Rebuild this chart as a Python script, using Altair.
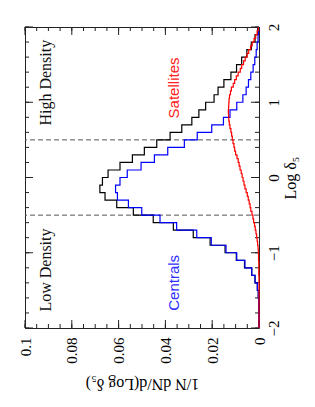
import altair as alt
import pandas as pd

# ---------------- data ----------------
# 0.1-wide bins of Log delta_5, lower edges -2.0 ... 1.9
bin_lo_01 = [round(-2.0 + 0.1 * i, 1) for i in range(40)]
total = [0.0000, 0.0000, 0.0001, 0.0001, 0.0003, 0.0007, 0.0017, 0.0031, 0.0062, 0.0097,
         0.0145, 0.0209, 0.0281, 0.0366, 0.0452, 0.0537, 0.0608, 0.0658, 0.0680, 0.0669,
         0.0645, 0.0594, 0.0541, 0.0490, 0.0437, 0.0380, 0.0330, 0.0287, 0.0257, 0.0228,
         0.0192, 0.0175, 0.0150, 0.0120, 0.0096, 0.0074, 0.0052, 0.0033, 0.0017, 0.0006]
centrals = [0.0000, 0.0000, 0.0001, 0.0001, 0.0003, 0.0007, 0.0017, 0.0031, 0.0060, 0.0095,
            0.0141, 0.0204, 0.0266, 0.0352, 0.0423, 0.0501, 0.0558, 0.0605, 0.0613, 0.0594,
            0.0563, 0.0504, 0.0447, 0.0390, 0.0319, 0.0264, 0.0202, 0.0152, 0.0124, 0.0095,
            0.0069, 0.0055, 0.0045, 0.0035, 0.0025, 0.0018, 0.0012, 0.0008, 0.0004, 0.0002]
# 0.05-wide bins, lower edges -2.00 ... 1.95
bin_lo_005 = [round(-2.0 + 0.05 * i, 2) for i in range(80)]
satellites = [0.0000, 0.0000, 0.0000, 0.0000, 0.0000, 0.0000, 0.0000, 0.0000, 0.0000, 0.0000,
              0.0000, 0.0000, 0.0000, 0.0000, 0.0001, 0.0001, 0.0001, 0.0001, 0.0002, 0.0002,
              0.0003, 0.0004, 0.0006, 0.0008, 0.0010, 0.0013, 0.0016, 0.0019, 0.0023, 0.0026,
              0.0030, 0.0035, 0.0038, 0.0042, 0.0046, 0.0050, 0.0055, 0.0060, 0.0064, 0.0068,
              0.0072, 0.0076, 0.0081, 0.0085, 0.0089, 0.0094, 0.0100, 0.0104, 0.0107, 0.0111,
              0.0114, 0.0117, 0.0120, 0.0124, 0.0127, 0.0129, 0.0130, 0.0131, 0.0130, 0.0129,
              0.0128, 0.0126, 0.0122, 0.0118, 0.0110, 0.0104, 0.0097, 0.0089, 0.0080, 0.0074,
              0.0066, 0.0059, 0.0051, 0.0044, 0.0036, 0.0029, 0.0021, 0.0014, 0.0008, 0.0003]

density_cuts = [-0.5, 0.5]
x_major = [0, 0.02, 0.04, 0.06, 0.08, 0.1]
x_minor = [round(0.005 * k, 3) for k in range(21)]
y_major = [-2, -1, 0, 1, 2]
y_minor = [round(-2.0 + 0.2 * k, 1) for k in range(21)]

ann_serif = pd.DataFrame({"val": [0.091, 0.091], "logd": [1.26, -1.23],
                          "label": ["High Density", "Low Density"]})
ann_sans = pd.DataFrame({"val": [0.0363, 0.0363], "logd": [1.19, -1.40],
                         "label": ["Satellites", "Centrals"],
                         "col": ["#ff2020", "#3030ff"]})


def steps(lo_edges, width, vals):
    rows = []
    for i, (lo, v) in enumerate(zip(lo_edges, vals)):
        rows.append({"order": 2 * i, "logd": lo, "val": v})
        rows.append({"order": 2 * i + 1, "logd": round(lo + width, 3), "val": v})
    return pd.DataFrame(rows)


df_tot = steps(bin_lo_01, 0.1, total)
df_cen = steps(bin_lo_01, 0.1, centrals)
df_sat = steps(bin_lo_005, 0.05, satellites)

W, H = 234, 301
SERIF = "Liberation Serif, DejaVu Serif, serif"
SANS = "Liberation Sans, DejaVu Sans, sans-serif"
FRAME = "#222222"

x_enc = alt.X(
    "val:Q",
    scale=alt.Scale(domain=[0, 0.1], reverse=True, nice=False, zero=False),
    axis=alt.Axis(values=x_major, format="~g", labelAngle=270, labelAlign="right",
                  labelBaseline="middle", labelPadding=9, labelFlush=False,
                  labelOverlap=False, ticks=False, domain=False, grid=False,
                  labelFont=SERIF, labelFontSize=15, labelColor="#000000",
                  title="1/N dN/d(Log δ₅)", titleAngle=180, titleBaseline="bottom",
                  titlePadding=12, titleFont=SERIF, titleFontSize=16,
                  titleFontWeight="normal", titleColor="#000000"),
)
y_enc = alt.Y(
    "logd:Q",
    scale=alt.Scale(domain=[-2, 2], nice=False, zero=False),
    axis=alt.Axis(orient="right", values=y_major, labelAngle=270, labelAlign="center",
                  labelBaseline="top", labelPadding=7, labelFlush=False,
                  labelOverlap=False, labelExpr="replace(datum.label, '-', '−')",
                  ticks=False, domain=False, grid=False,
                  labelFont=SERIF, labelFontSize=15, labelColor="#000000",
                  title="Log δ₅", titleAngle=270, titleBaseline="top", titlePadding=1,
                  titleFont=SERIF, titleFontSize=16, titleFontWeight="normal",
                  titleColor="#000000"),
)

tot = alt.Chart(df_tot).mark_line(color="#000000", strokeWidth=1.2).encode(
    x=x_enc, y=y_enc, order="order:Q")
cen = alt.Chart(df_cen).mark_line(color="#0000ff", strokeWidth=1.2).encode(
    x=x_enc, y=y_enc, order="order:Q")
sat = alt.Chart(df_sat).mark_line(color="#ff0000", strokeWidth=1.2).encode(
    x=x_enc, y=y_enc, order="order:Q")

cuts = alt.Chart(pd.DataFrame({"logd": density_cuts})).mark_rule(
    color="#555555", strokeDash=[5, 3], strokeWidth=1).encode(y=y_enc)

dfx_min = pd.DataFrame({"val": x_minor})
dfx_maj = pd.DataFrame({"val": x_major})
dfy_min = pd.DataFrame({"logd": y_minor})
dfy_maj = pd.DataFrame({"logd": y_major})

tick_layers = []
for dfx, ln in ((dfx_min, 4), (dfx_maj, 8)):
    tick_layers.append(alt.Chart(dfx).mark_rule(color=FRAME).encode(
        x=x_enc, y=alt.value(H), y2=alt.value(H - ln)))
    tick_layers.append(alt.Chart(dfx).mark_rule(color=FRAME).encode(
        x=x_enc, y=alt.value(0), y2=alt.value(ln)))
for dfy, ln in ((dfy_min, 4), (dfy_maj, 8)):
    tick_layers.append(alt.Chart(dfy).mark_rule(color=FRAME).encode(
        y=y_enc, x=alt.value(0), x2=alt.value(ln)))
    tick_layers.append(alt.Chart(dfy).mark_rule(color=FRAME).encode(
        y=y_enc, x=alt.value(W), x2=alt.value(W - ln)))

txt_serif = alt.Chart(ann_serif).mark_text(
    angle=270, align="center", baseline="middle", font=SERIF, fontSize=16,
    color="#111111").encode(x=x_enc, y=y_enc, text="label:N")
txt_sans = alt.Chart(ann_sans).mark_text(
    angle=270, align="center", baseline="middle", font=SANS, fontSize=15).encode(
    x=x_enc, y=y_enc, text="label:N", color=alt.Color("col:N", scale=None))

chart = alt.layer(cuts, *tick_layers, tot, cen, sat, txt_serif, txt_sans).properties(
    width=W, height=H,
    autosize=alt.AutoSizeParams(type="none"),
    padding={"left": 17, "top": 19, "right": 48, "bottom": 72},
    background="white",
).configure_view(stroke=FRAME, strokeWidth=1)

chart.save("out.html", embed_options={"renderer": "svg", "actions": False})
